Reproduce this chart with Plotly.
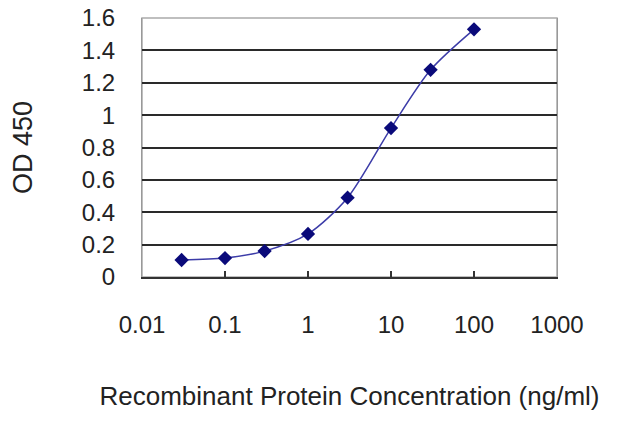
import plotly.graph_objects as go

# concentration (ng/ml) and OD450 readings
conc = [0.03, 0.1, 0.3, 1, 3, 10, 30, 100]
od450 = [0.105, 0.117, 0.16, 0.266, 0.49, 0.92, 1.28, 1.53]

x_ticks = [0.01, 0.1, 1, 10, 100, 1000]
x_labels = ["0.01", "0.1", "1", "10", "100", "1000"]
y_ticks = [0, 0.2, 0.4, 0.6, 0.8, 1, 1.2, 1.4, 1.6]
y_labels = ["0", "0.2", "0.4", "0.6", "0.8", "1", "1.2", "1.4", "1.6"]

font = dict(family="Liberation Sans, Arial", size=24, color="#222222")

fig = go.Figure()
fig.add_trace(go.Scatter(
    x=conc, y=od450,
    mode="lines+markers",
    line=dict(color="#3c3ca8", width=1.5, shape="spline", smoothing=0.8),
    marker=dict(symbol="diamond", size=11, color="#0a0a7a"),
    showlegend=False,
))

# the page body adds 8px, so margins are shifted to keep the plot box in place
fig.update_layout(
    width=640, height=427,
    margin=dict(l=134, r=91, t=10, b=158),
    paper_bgcolor="white",
    plot_bgcolor="white",
    font=font,
)

fig.update_xaxes(
    type="log", range=[-2, 3], automargin=False,
    tickvals=x_ticks, ticktext=x_labels,
    ticks="inside", ticklen=6, tickcolor="#333333", tickwidth=1.5,
    showgrid=False, zeroline=False,
    showline=True, linecolor="#333333", linewidth=2, mirror=False,
    ticklabelstandoff=25, ticklabeloverflow="allow",
    title=dict(text="Recombinant Protein Concentration (ng/ml)",
               font=dict(size=26), standoff=50),
)
fig.update_yaxes(
    range=[0, 1.6], automargin=False,
    tickvals=y_ticks, ticktext=y_labels,
    ticks="", showgrid=True, gridcolor="#2a2a2a", gridwidth=2,
    zeroline=False,
    showline=True, linecolor="#999999", linewidth=1, mirror=True,
    ticklabelstandoff=21, ticklabeloverflow="allow",
    title=dict(text="OD 450", font=dict(size=27), standoff=44),
)

# light frame on the top and right like the original
fig.add_shape(type="rect", xref="paper", yref="paper", x0=0, y0=0, x1=1, y1=1,
              line=dict(color="#aaaaaa", width=1.5), layer="below")

fig.write_html("out.html")
